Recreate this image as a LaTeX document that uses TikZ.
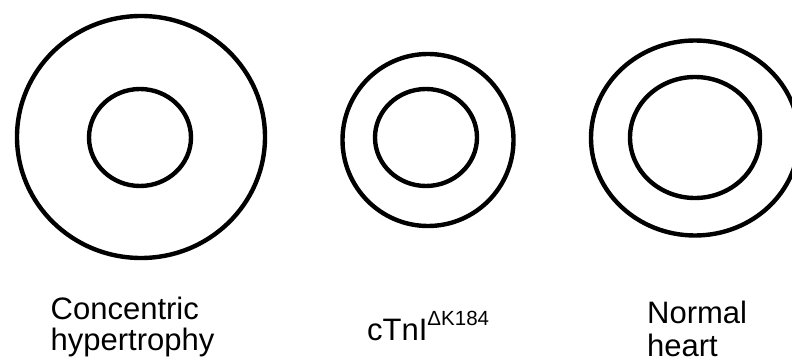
\documentclass[tikz,border=0pt]{standalone}
\usepackage{fontspec}
\setmainfont{Liberation Sans}
\begin{document}
\begin{tikzpicture}[x=1pt,y=-1pt,
  ring/.style={draw=black,line width=4.4pt},
  lbl/.style={anchor=base west,inner sep=0pt,font=\fontsize{31}{33}\selectfont}]
\useasboundingbox (0,0) rectangle (792,363);
\clip (0,0) rectangle (792,363);
% concentric hypertrophy
\draw[ring] (141,137) ellipse [x radius=124, y radius=121];
\draw[ring] (140,137.5) ellipse [x radius=51, y radius=48.5];
% cTnI mutant
\draw[ring] (428,140) ellipse [x radius=85.5, y radius=86];
\draw[ring] (426,137.5) ellipse [x radius=51, y radius=48.5];
% normal heart
\draw[ring] (695,138) ellipse [x radius=104, y radius=97.5];
\draw[ring] (695,137.5) ellipse [x radius=65, y radius=60.5];
% labels
\node[lbl] (conc1) at (50.5,319) {Concentric};
\node[lbl] (conc2) at (50.5,350) {hypertrophy};
\node[lbl] (ctni) at (367,340) {cTnI\raisebox{15pt}{\fontsize{20.5}{20.5}\selectfont ΔK184}};
\node[lbl] (norm1) at (647,323) {Normal};
\node[lbl] (norm2) at (647,356) {heart};
\end{tikzpicture}
\end{document}
